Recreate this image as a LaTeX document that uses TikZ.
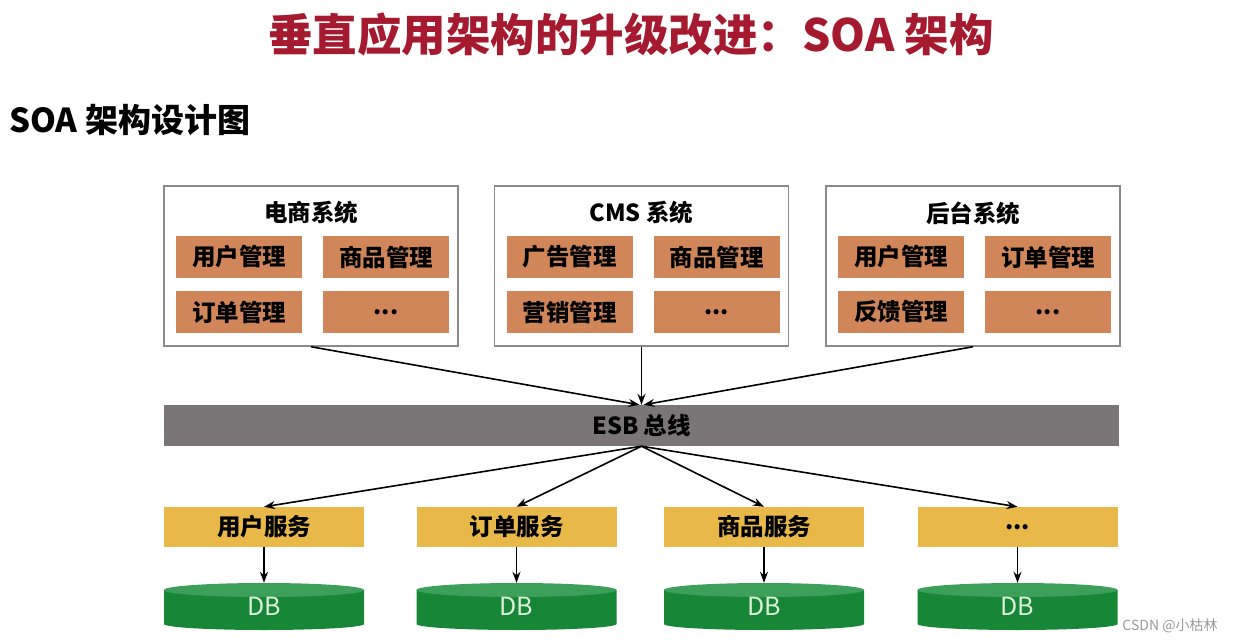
\documentclass[tikz,border=0pt]{standalone}
\usepackage{fontspec}
\setmainfont{Noto Sans CJK SC}
\usetikzlibrary{arrows.meta}
\newcommand\myellip{...}
\definecolor{titlered}{HTML}{A51A2E}
\definecolor{boxline}{HTML}{8A8A8A}
\definecolor{cellfill}{HTML}{D08659}
\definecolor{esbgray}{HTML}{7A7677}
\definecolor{svcfill}{HTML}{E8B848}
\definecolor{dbbody}{HTML}{178737}
\definecolor{dbtop}{HTML}{3CA05A}
\definecolor{dbtext}{HTML}{DDEEDD}
\definecolor{wmgray}{HTML}{9A9A9A}
\tikzset{
  sysbox/.style={draw=boxline, line width=1.5pt, fill=white, minimum width=294pt, minimum height=160pt, inner sep=0pt},
  systitle/.style={font=\fontsize{23.5}{26}\selectfont\bfseries, inner sep=0pt},
  cell/.style={fill=cellfill, minimum width=126pt, minimum height=42pt, inner sep=0pt, font=\fontsize{23.5}{26}\selectfont\bfseries},
  esbbar/.style={fill=esbgray, minimum width=955pt, minimum height=41pt, inner sep=0pt, font=\fontsize{23.5}{26}\selectfont\bfseries},
  svc/.style={fill=svcfill, minimum width=200pt, minimum height=40pt, inner sep=0pt, font=\fontsize{23.5}{26}\selectfont\bfseries},
  dbnode/.style={minimum width=200pt, minimum height=47pt, inner sep=0pt, text=dbtext, font=\fontsize{25}{27}\selectfont},
  arr/.style={-{Stealth[length=11pt,width=8pt]}, line width=1.6pt, black},
}
\begin{document}
\begin{tikzpicture}[x=1pt,y=1pt]
\fill[white] (0,0) rectangle (1235,-642);
\useasboundingbox (0,0) rectangle (1235,-642);

\node[text=titlered, font=\fontsize{44.5}{46}\selectfont\bfseries, inner sep=0pt] (title) at (631,-35) {垂直应用架构的升级改进：SOA 架构};
\node[anchor=west, font=\fontsize{33}{35}\selectfont\bfseries, inner sep=0pt] (sub) at (9,-120) {SOA 架构设计图};

% system boxes
\foreach \n/\cx/\t/\a/\b/\c/\d in {1/311/电商系统/用户管理/商品管理/订单管理/\myellip,
                                 2/641.5/CMS 系统/广告管理/商品管理/营销管理/\myellip,
                                 3/973/后台系统/用户管理/订单管理/反馈管理/\myellip}{
  \node[sysbox] (s\n) at (\cx,-266) {};
  \node[systitle] (t\n) at (\cx,-213) {\t};
  \node[cell] (c\n a) at (\cx-72,-257) {\a};
  \node[cell] (c\n b) at (\cx+75,-257) {\b};
  \node[cell] (c\n c) at (\cx-72,-312) {\c};
  \node[cell] (c\n d) at (\cx+75,-312) {\d};
}

\node[esbbar] (esb) at (641.5,-425.5) {ESB 总线};

\foreach \n/\cx/\t in {1/264/用户服务, 2/516.5/订单服务, 3/764/商品服务, 4/1017.5/\myellip}{
  \node[svc] (v\n) at (\cx,-527) {\t};
  \fill[dbbody] (\cx-100,-590) -- (\cx-100,-624) arc[start angle=180, end angle=360, x radius=100, y radius=6] -- (\cx+100,-590) -- cycle;
  \fill[dbtop] (\cx,-590) ellipse[x radius=100, y radius=7];
  \node[dbnode] (db\n) at (\cx,-606.5) {DB};
  \draw[arr] (v\n.south) -- (db\n.north);
  \draw[arr] (esb.south) -- (v\n.north);
}

\draw[arr] (s1.south) -- ([xshift=-2pt]esb.north);
\draw[arr] (s2.south) -- (esb.north);
\draw[arr] (s3.south) -- ([xshift=2pt]esb.north);

\node[text=wmgray, font=\fontsize{14}{16}\selectfont, inner sep=0pt] (wm) at (1170,-626) {CSDN @小枯林};
\end{tikzpicture}
\end{document}
